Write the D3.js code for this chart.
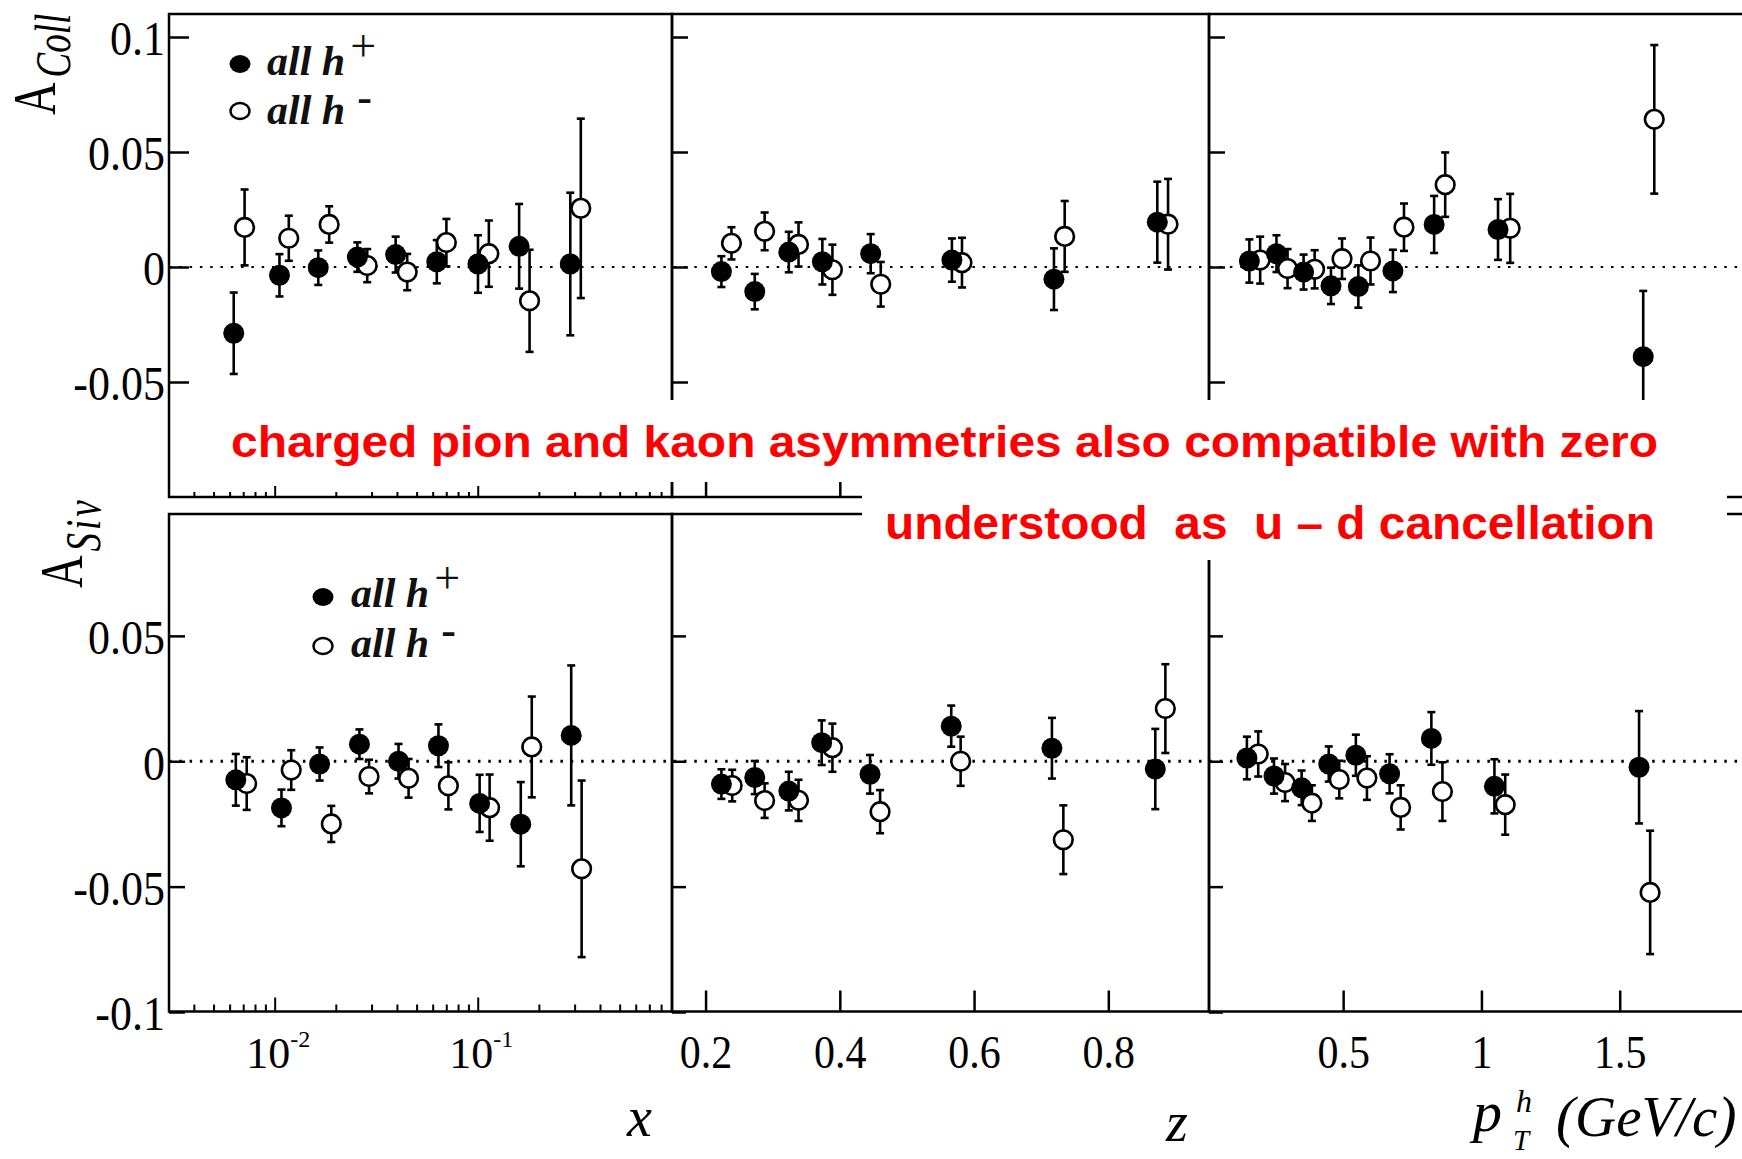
<!DOCTYPE html>
<html>
<head>
<meta charset="utf-8">
<script src="https://cdn.jsdelivr.net/npm/d3@7"></script>
<style>
    body { margin: 0; background: white; }
    svg { display: block; }
</style>
</head>
<body>
<div id="graphContainer"></div>
<script>
// ---- Collins asymmetry (top row) ----
const collXBinsPos = [0.00625, 0.0105, 0.0163, 0.0254, 0.0392, 0.0625, 0.0997, 0.159, 0.284];
const collXPos = [-0.0288, -0.0036, -0.0003, 0.0043, 0.0054, 0.0023, 0.0013, 0.009, 0.0013];
const collXPosErr = [0.0177, 0.0092, 0.0075, 0.0064, 0.0078, 0.0094, 0.0125, 0.0184, 0.031];
const collXBinsNeg = [0.00707, 0.01167, 0.01845, 0.0284, 0.0447, 0.0697, 0.1128, 0.179, 0.32];
const collXNeg = [0.0172, 0.0125, 0.0185, 0.0006, -0.0022, 0.0106, 0.0058, -0.0147, 0.0255];
const collXNegErr = [0.0165, 0.0098, 0.0079, 0.0072, 0.0079, 0.0103, 0.0144, 0.0222, 0.039];

const collZBinsPos = [0.2236, 0.2733, 0.324, 0.374, 0.446, 0.567, 0.719, 0.873];
const collZPos = [-0.002, -0.0107, 0.0065, 0.0023, 0.0058, 0.003, -0.0053, 0.0195];
const collZPosErr = [0.0067, 0.0077, 0.0088, 0.0099, 0.0085, 0.0094, 0.0134, 0.0176];
const collZBinsNeg = [0.2386, 0.288, 0.3385, 0.389, 0.461, 0.582, 0.735, 0.889];
const collZNeg = [0.0103, 0.0155, 0.0098, -0.0012, -0.0075, 0.0019, 0.0133, 0.0186];
const collZNegErr = [0.007, 0.0082, 0.0096, 0.0109, 0.0097, 0.0108, 0.0154, 0.0197];

const collPtBinsPos = [0.161, 0.259, 0.357, 0.456, 0.555, 0.68, 0.829, 1.06, 1.585];
const collPtPos = [0.0026, 0.0058, -0.0022, -0.0082, -0.0085, -0.0017, 0.0185, 0.0163, -0.039];
const collPtPosErr = [0.0094, 0.008, 0.0076, 0.0079, 0.0092, 0.0092, 0.0124, 0.0132, 0.0286];
const collPtBinsNeg = [0.2, 0.299, 0.397, 0.496, 0.599, 0.72, 0.869, 1.104, 1.625];
const collPtNeg = [0.003, -0.0007, -0.001, 0.0036, 0.0026, 0.0173, 0.0358, 0.0168, 0.0642];
const collPtNegErr = [0.0102, 0.0085, 0.0083, 0.0088, 0.0102, 0.0103, 0.014, 0.015, 0.0323];

// ---- Sivers asymmetry (bottom row) ----
const sivXBinsPos = [0.0064, 0.01074, 0.01655, 0.026, 0.0405, 0.0637, 0.1016, 0.162, 0.287];
const sivXPos = [-0.0074, -0.0186, -0.0011, 0.0068, 0.0, 0.0062, -0.0168, -0.0251, 0.0103];
const sivXPosErr = [0.0103, 0.0073, 0.0066, 0.0059, 0.0069, 0.0085, 0.0114, 0.0168, 0.0279];
const sivXBinsNeg = [0.00724, 0.012, 0.0189, 0.029, 0.0454, 0.0713, 0.1138, 0.1835, 0.323];
const sivXNeg = [-0.0089, -0.0035, -0.025, -0.0061, -0.0068, -0.0098, -0.0185, 0.0057, -0.0429];
const sivXNegErr = [0.0105, 0.0079, 0.0072, 0.0067, 0.0077, 0.0094, 0.0132, 0.0201, 0.0352];

const sivZBinsPos = [0.2236, 0.2733, 0.324, 0.373, 0.445, 0.566, 0.716, 0.87];
const sivZPos = [-0.0091, -0.0065, -0.0119, 0.0074, -0.0052, 0.014, 0.0052, -0.0031];
const sivZPosErr = [0.0059, 0.0066, 0.0077, 0.0089, 0.0077, 0.0082, 0.0121, 0.016];
const sivZBinsNeg = [0.2397, 0.288, 0.3385, 0.389, 0.46, 0.58, 0.733, 0.885];
const sivZNeg = [-0.0097, -0.0157, -0.0156, 0.0054, -0.0201, 0.0, -0.0313, 0.021];
const sivZNegErr = [0.0063, 0.0069, 0.0082, 0.0096, 0.0086, 0.0098, 0.0137, 0.0177];

const sivPtBinsPos = [0.152, 0.25, 0.35, 0.448, 0.546, 0.668, 0.819, 1.047, 1.57];
const sivPtPos = [0.0013, -0.0059, -0.0106, -0.0011, 0.0024, -0.005, 0.0091, -0.01, -0.0024];
const sivPtPosErr = [0.0085, 0.007, 0.0069, 0.007, 0.0082, 0.0078, 0.0105, 0.0108, 0.0224];
const sivPtBinsNeg = [0.193, 0.29, 0.387, 0.486, 0.586, 0.708, 0.859, 1.086, 1.61];
const sivPtNeg = [0.0029, -0.0085, -0.0167, -0.0073, -0.0067, -0.0184, -0.0121, -0.0173, -0.0523];
const sivPtNegErr = [0.009, 0.0074, 0.0071, 0.0075, 0.0087, 0.0088, 0.0117, 0.012, 0.0246];

// ---- ticks ----
const yTicksTop = [-0.05, 0, 0.05, 0.1];
const yTicksBottom = [-0.1, -0.05, 0, 0.05];
const zTicks = [0.2, 0.4, 0.6, 0.8];
const ptTicks = [0.5, 1, 1.5];
const xDecades = [0.01, 0.1];

const serif = '"Liberation Serif", "Times New Roman", serif';
const sans = '"Liberation Sans", Arial, sans-serif';

const width = 1742;
const height = 1159;
const colEdges = [169, 672, 1209, 1758];

const xScales = [
    d3.scaleLog().domain([0.003, 0.9]).range([colEdges[0], colEdges[1]]),
    d3.scaleLinear().domain([0.15, 0.95]).range([colEdges[1], colEdges[2]]),
    d3.scaleLinear().domain([0.015, 2]).range([colEdges[2], colEdges[3]])
];

const rows = [
    { top: 14, bottom: 497, y: d3.scaleLinear().domain([-0.1, 0.11]).range([497, 14]),
      yTicks: yTicksTop, yTick: [20, 16, 16], logTick: [5, 11], linTick: 15, zeroWidth: 2.2 },
    { top: 514, bottom: 1011.5, y: d3.scaleLinear().domain([-0.1, 0.1]).range([1012, 510.5]),
      yTicks: yTicksBottom, yTick: [16, 14, 14], logTick: [7, 14], linTick: 21, zeroWidth: 3 }
];

const panels = [
    { row: 0, col: 0, pb: collXBinsPos, pv: collXPos, pe: collXPosErr, nb: collXBinsNeg, nv: collXNeg, ne: collXNegErr },
    { row: 0, col: 1, pb: collZBinsPos, pv: collZPos, pe: collZPosErr, nb: collZBinsNeg, nv: collZNeg, ne: collZNegErr },
    { row: 0, col: 2, pb: collPtBinsPos, pv: collPtPos, pe: collPtPosErr, nb: collPtBinsNeg, nv: collPtNeg, ne: collPtNegErr },
    { row: 1, col: 0, pb: sivXBinsPos, pv: sivXPos, pe: sivXPosErr, nb: sivXBinsNeg, nv: sivXNeg, ne: sivXNegErr },
    { row: 1, col: 1, pb: sivZBinsPos, pv: sivZPos, pe: sivZPosErr, nb: sivZBinsNeg, nv: sivZNeg, ne: sivZNegErr },
    { row: 1, col: 2, pb: sivPtBinsPos, pv: sivPtPos, pe: sivPtPosErr, nb: sivPtBinsNeg, nv: sivPtNeg, ne: sivPtNegErr }
];

const svg = d3
    .select('#graphContainer')
    .append('svg')
    .attr('width', width)
    .attr('height', height)
    .style('background', 'white');

drawGraph();

function drawGraph() {
    rows.forEach(drawRowFrame);
    panels.forEach(drawPanel);
    drawLegend(240, 64, 111, 267, 75, 124);
    drawLegend(323, 597, 646, 351, 607, 657);
    drawTitles();
    drawNotes();
}

function drawRowFrame(r, ri) {
    const g = svg.append('g');

    // dotted zero line
    g.append('line')
        .attr('x1', colEdges[0])
        .attr('x2', width)
        .attr('y1', r.y(0))
        .attr('y2', r.y(0))
        .attr('stroke', 'black')
        .attr('stroke-width', r.zeroWidth)
        .attr('stroke-dasharray', '2.5,7.8');

    // panel boxes
    for (let c = 0; c < 3; c++) {
        g.append('rect')
            .attr('x', colEdges[c])
            .attr('y', r.top)
            .attr('width', colEdges[c + 1] - colEdges[c])
            .attr('height', r.bottom - r.top)
            .attr('fill', 'none')
            .attr('stroke', 'black')
            .attr('stroke-width', 2.5);

        // y ticks (inward)
        const yAxis = d3.axisLeft(r.y)
            .tickValues(r.yTicks)
            .tickSizeInner(-r.yTick[c])
            .tickSizeOuter(0)
            .tickPadding(4)
            .tickFormat(c === 0 ? (d => String(+d.toFixed(2))) : '');
        const ya = g.append('g')
            .attr('transform', 'translate(' + colEdges[c] + ',0)')
            .call(yAxis);
        ya.select('.domain').remove();
        ya.selectAll('line').attr('stroke-width', 2.5);
        ya.selectAll('text')
            .attr('dy', '0.36em')
            .attr('transform', 'scale(1,1.12)')
            .style('font-family', serif)
            .style('font-size', '44px')
            .attr('fill', 'black');

        // x ticks (inward)
        const x = xScales[c];
        let xa;
        if (c === 0) {
            const vals = x.ticks().filter(d => d > 0.0031 && d < 0.89);
            xa = g.append('g').attr('transform', 'translate(0,' + r.bottom + ')');
            xa.selectAll('line')
                .data(vals)
                .enter()
                .append('line')
                .attr('x1', d => x(d))
                .attr('x2', d => x(d))
                .attr('y1', 0)
                .attr('y2', d => {
                    const l = Math.log10(d);
                    return Math.abs(l - Math.round(l)) < 1e-6 ? -r.logTick[1] : -r.logTick[0];
                })
                .attr('stroke', 'black')
                .attr('stroke-width', 2);
        } else {
            const xAxis = d3.axisBottom(x)
                .tickValues(c === 1 ? zTicks : ptTicks)
                .tickSizeInner(-r.linTick)
                .tickSizeOuter(0)
                .tickPadding(21)
                .tickFormat(ri === 1 ? (d => String(d)) : '');
            xa = g.append('g')
                .attr('transform', 'translate(0,' + r.bottom + ')')
                .call(xAxis);
            xa.select('.domain').remove();
            xa.selectAll('line').attr('stroke-width', 2.5);
            xa.selectAll('text')
                .attr('transform', 'scale(1,1.12)')
                .style('font-family', serif)
                .style('font-size', '42px')
                .attr('fill', 'black');
        }
    }

    // decade labels for the log axis
    if (ri === 1) {
        const lab = g.selectAll('text.dec')
            .data(xDecades)
            .enter()
            .append('text')
            .attr('class', 'dec')
            .attr('x', d => xScales[0](d) + 3)
            .attr('y', 1068)
            .attr('text-anchor', 'middle')
            .style('font-family', serif)
            .style('font-size', '44px');
        lab.append('tspan').text('10');
        lab.append('tspan')
            .attr('dy', -21)
            .style('font-size', '24px')
            .text(d => '-' + Math.round(-Math.log10(d)));
    }
}

function drawPanel(p) {
    const x = xScales[p.col];
    const y = rows[p.row].y;
    const g = svg.append('g');

    const series = [
        { bins: p.pb, vals: p.pv, errs: p.pe, filled: true },
        { bins: p.nb, vals: p.nv, errs: p.ne, filled: false }
    ];

    series.forEach(function (s) {
        const pts = s.bins.map((b, i) => ({ x: b, v: s.vals[i], e: s.errs[i] }));
        const bars = g.append('g').selectAll('g').data(pts).enter().append('g');
        bars.append('line')
            .attr('x1', d => x(d.x))
            .attr('x2', d => x(d.x))
            .attr('y1', d => y(d.v + d.e))
            .attr('y2', d => y(d.v - d.e))
            .attr('stroke', 'black')
            .attr('stroke-width', 2.6);
        [1, -1].forEach(function (sg) {
            bars.append('line')
                .attr('x1', d => x(d.x) - 4)
                .attr('x2', d => x(d.x) + 4)
                .attr('y1', d => y(d.v + sg * d.e))
                .attr('y2', d => y(d.v + sg * d.e))
                .attr('stroke', 'black')
                .attr('stroke-width', 2.6);
        });
        s.pts = pts;
    });

    // open markers below filled ones
    g.append('g')
        .selectAll('circle')
        .data(series[1].pts)
        .enter()
        .append('circle')
        .attr('cx', d => x(d.x))
        .attr('cy', d => y(d.v))
        .attr('r', 9.3)
        .attr('fill', 'white')
        .attr('stroke', 'black')
        .attr('stroke-width', 2.6);

    g.append('g')
        .selectAll('circle')
        .data(series[0].pts)
        .enter()
        .append('circle')
        .attr('cx', d => x(d.x))
        .attr('cy', d => y(d.v))
        .attr('r', 10.5)
        .attr('fill', 'black');
}

function drawLegend(mx, my1, my2, tx, ty1, ty2) {
    const g = svg.append('g');
    g.append('ellipse')
        .attr('cx', mx).attr('cy', my1)
        .attr('rx', 10.5).attr('ry', 9)
        .attr('fill', 'black');
    g.append('ellipse')
        .attr('cx', mx).attr('cy', my2)
        .attr('rx', 9.5).attr('ry', 8)
        .attr('fill', 'white')
        .attr('stroke', 'black')
        .attr('stroke-width', 2.4);

    const t1 = g.append('text')
        .attr('x', tx).attr('y', ty1)
        .style('font-family', serif)
        .style('font-size', '42px')
        .style('font-style', 'italic')
        .style('font-weight', 'bold')
        .attr('fill', '#111');
    t1.append('tspan').text('all h');
    t1.append('tspan')
        .attr('dx', 5)
        .attr('dy', -14)
        .style('font-style', 'normal')
        .style('font-weight', 'normal')
        .style('font-size', '46px')
        .text('+');

    const t2 = g.append('text')
        .attr('x', tx).attr('y', ty2)
        .style('font-family', serif)
        .style('font-size', '42px')
        .style('font-style', 'italic')
        .style('font-weight', 'bold')
        .attr('fill', '#111');
    t2.append('tspan').text('all h');
    t2.append('tspan')
        .attr('dx', 12)
        .attr('dy', -12)
        .style('font-style', 'normal')
        .style('font-size', '44px')
        .text('-');
}

function drawTitles() {
    // y titles, rotated
    const yt1 = svg.append('text')
        .attr('transform', 'translate(55,115) rotate(-90) scale(1,1.35)')
        .style('font-family', serif)
        .style('font-size', '45px');
    yt1.append('tspan').text('A');
    yt1.append('tspan')
        .attr('dx', 5).attr('dy', 11)
        .style('font-size', '37px')
        .style('font-style', 'italic')
        .text('Coll');

    const yt2 = svg.append('text')
        .attr('transform', 'translate(82,588) rotate(-90) scale(1,1.35)')
        .style('font-family', serif)
        .style('font-size', '45px');
    yt2.append('tspan').text('A');
    yt2.append('tspan')
        .attr('dx', 4).attr('dy', 13)
        .style('font-size', '37px')
        .style('font-style', 'italic')
        .style('letter-spacing', '3px')
        .text('Siv');

    // x titles
    const it = [
        { t: 'x', x: 627, y: 1136, s: 56 },
        { t: 'z', x: 1166, y: 1141, s: 56 },
        { t: 'p', x: 1473, y: 1131, s: 58 },
        { t: 'h', x: 1516, y: 1112, s: 32 },
        { t: 'T', x: 1513, y: 1150, s: 29 },
        { t: '(GeV/c)', x: 1556, y: 1136, s: 57 }
    ];
    svg.append('g')
        .selectAll('text')
        .data(it)
        .enter()
        .append('text')
        .attr('x', d => d.x)
        .attr('y', d => d.y)
        .style('font-family', serif)
        .style('font-style', 'italic')
        .style('font-size', d => d.s + 'px')
        .text(d => d.t);
}

function drawNotes() {
    svg.append('rect')
        .attr('x', 178).attr('y', 400)
        .attr('width', width - 178).attr('height', 82)
        .attr('fill', 'white');
    svg.append('rect')
        .attr('x', 862).attr('y', 470)
        .attr('width', 865).attr('height', 90)
        .attr('fill', 'white');

    svg.append('text')
        .attr('x', 231).attr('y', 457)
        .attr('textLength', 1427)
        .attr('lengthAdjust', 'spacingAndGlyphs')
        .style('font-family', sans)
        .style('font-weight', 'bold')
        .style('font-size', '44px')
        .attr('fill', '#ff0000')
        .text('charged pion and kaon asymmetries also compatible with zero');

    svg.append('text')
        .attr('x', 885).attr('y', 539)
        .attr('textLength', 770)
        .attr('lengthAdjust', 'spacingAndGlyphs')
        .style('font-family', sans)
        .style('font-weight', 'bold')
        .style('font-size', '46px')
        .style('white-space', 'pre')
        .attr('fill', '#ff0000')
        .text('understood  as  u \u2013 d cancellation');
}
</script>
</body>
</html>
